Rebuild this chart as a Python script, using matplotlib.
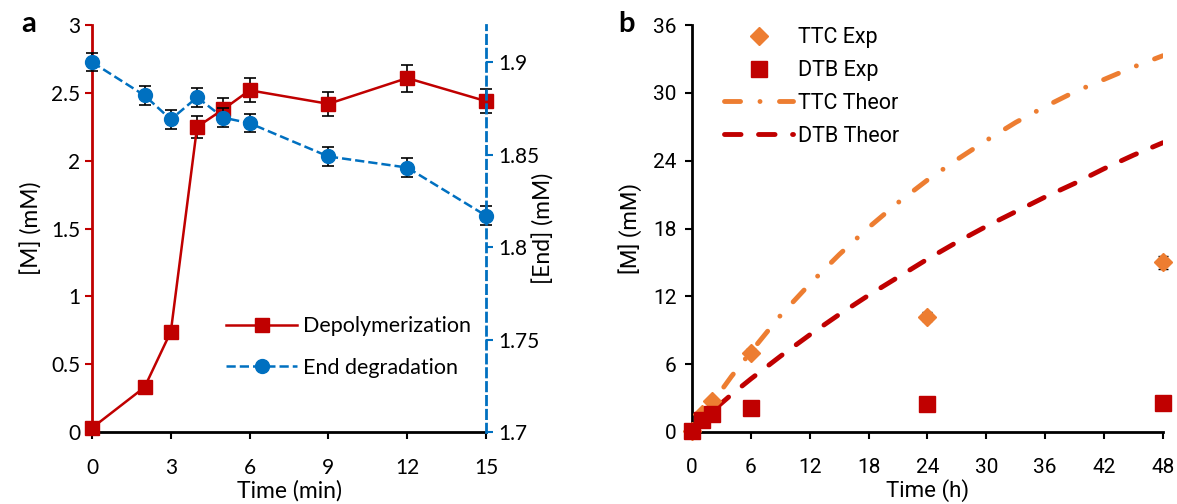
import matplotlib.pyplot as plt
import numpy as np

# panel a: depolymerization and end degradation vs time (min)
t_min = [0, 2, 3, 4, 5, 6, 9, 12, 15]
depol = [0.03, 0.33, 0.74, 2.25, 2.38, 2.52, 2.42, 2.61, 2.44]
depol_err = [0.0, 0.0, 0.0, 0.08, 0.08, 0.09, 0.09, 0.10, 0.09]
end_deg = [1.900, 1.882, 1.869, 1.881, 1.870, 1.867, 1.849, 1.843, 1.817]
end_err = [0.005, 0.005, 0.005, 0.005, 0.005, 0.005, 0.005, 0.005, 0.005]

# panel b: experimental points and theory curves vs time (h)
t_exp = [0, 1, 2, 6, 24, 48]
ttc_exp = [0.1, 1.6, 2.7, 7.0, 10.2, 15.0]
ttc_err = [0.0, 0.0, 0.0, 0.3, 0.4, 0.6]
dtb_exp = [0.05, 1.1, 1.6, 2.1, 2.45, 2.6]

t_th = [0, 2, 4, 6, 9, 12, 15, 18, 21, 24, 27, 30, 33, 36, 39, 42, 45, 48]
ttc_th = [0, 2.5, 4.9, 7.1, 10.3, 13.1, 15.7, 18.1, 20.3, 22.3, 24.1, 25.8,
          27.4, 28.8, 30.1, 31.2, 32.3, 33.3]
dtb_th = [0, 1.8, 3.3, 4.7, 6.7, 8.6, 10.4, 12.1, 13.7, 15.3, 16.8, 18.2,
          19.5, 20.8, 22.0, 23.3, 24.5, 25.6]

red = '#C00000'
blue = '#0070C0'
orange = '#ED7D31'
fam_b = ['Roboto', 'DejaVu Sans']

plt.rcParams['font.family'] = ['Lato', 'DejaVu Sans']

fig = plt.figure(figsize=(11.77, 5.04), dpi=100)

# ---- panel a
ax = fig.add_axes([0.0782, 0.1429, 0.3347, 0.8071])
ax2 = ax.twinx()

ax.errorbar(t_min, depol, yerr=depol_err, fmt='none', ecolor='black',
            elinewidth=1.2, capsize=4, capthick=1.2, zorder=2, clip_on=False)
l1, = ax.plot(t_min, depol, color=red, lw=1.8, marker='s', ms=10,
              label='Depolymerization', zorder=3, clip_on=False)
ax2.errorbar(t_min, end_deg, yerr=end_err, fmt='none', ecolor='black',
             elinewidth=1.2, capsize=4, capthick=1.2, zorder=2, clip_on=False)
l2, = ax2.plot(t_min, end_deg, color=blue, lw=1.8, ls='--', marker='o', ms=10,
               label='End degradation', zorder=3, clip_on=False)

ax.set_xlim(0, 15)
ax.set_ylim(0, 3)
ax2.set_ylim(1.7, 1.92)
ax.set_xticks(np.arange(0, 16, 3))
ax.set_yticks([0, 0.5, 1, 1.5, 2, 2.5, 3])
ax.set_yticklabels(['0', '0.5', '1', '1.5', '2', '2.5', '3'])
ax2.set_yticks([1.7, 1.75, 1.8, 1.85, 1.9])
ax2.set_yticklabels(['1.7', '1.75', '1.8', '1.85', '1.9'])

for s in ['top', 'right']:
    ax.spines[s].set_visible(False)
ax.spines['left'].set_color(red)
ax.spines['left'].set_linewidth(2)
ax.spines['bottom'].set_linewidth(2)
for s in ['top', 'left', 'bottom']:
    ax2.spines[s].set_visible(False)
ax2.spines['right'].set_color(blue)
ax2.spines['right'].set_linewidth(2)
ax2.spines['right'].set_linestyle((0, (3, 2)))

ax.tick_params(axis='x', direction='out', length=5, width=1.5, labelsize=15,
               pad=13.5)
ax.tick_params(axis='y', direction='out', length=5, width=1.5, color=red,
               labelsize=15)
ax2.tick_params(axis='y', direction='out', length=5, width=1.5, color=blue,
                labelsize=15)

ax.set_xlabel('Time (min)', fontsize=16.5, labelpad=2)
ax.set_ylabel('[M] (mM)', fontsize=16.5, labelpad=6)
ax2.set_ylabel('[End] (mM)', fontsize=16.5, labelpad=-5)

ax2.legend([l1, l2], ['Depolymerization', 'End degradation'], loc='upper left',
           bbox_to_anchor=(0.34, 0.285), frameon=False, fontsize=15.5,
           handlelength=3.3, handletextpad=0.3, labelspacing=1.0,
           borderpad=0, borderaxespad=0)

fig.text(0.018, 0.952, 'a', fontsize=21, fontweight='bold', va='center')

# ---- panel b
bx = fig.add_axes([0.588, 0.1429, 0.400, 0.8071])

bx.errorbar(t_exp, ttc_exp, yerr=ttc_err, fmt='none', ecolor='black',
            elinewidth=1.0, capsize=3.5, capthick=1.0, zorder=2.5,
            clip_on=False)
p1, = bx.plot(t_exp, ttc_exp, color=orange, ls='none', marker='D', ms=9,
              zorder=3, clip_on=False)
p2, = bx.plot(t_exp, dtb_exp, color=red, ls='none', marker='s', ms=12,
              zorder=5, clip_on=False)
p3, = bx.plot(t_th, ttc_th, color=orange, lw=3.5, ls=(0, (3.3, 4, 0.01, 4)),
              dash_capstyle='round', zorder=2)
p4, = bx.plot(t_th, dtb_th, color=red, lw=3.5, ls=(0, (3.4, 3.6)),
              dash_capstyle='round', zorder=2)

bx.set_xlim(0, 48)
bx.set_ylim(0, 36)
bx.set_xticks(np.arange(0, 49, 6))
bx.set_yticks(np.arange(0, 37, 6))
for s in ['top', 'right']:
    bx.spines[s].set_visible(False)
bx.spines['left'].set_linewidth(2)
bx.spines['bottom'].set_linewidth(2)
bx.tick_params(axis='x', direction='out', length=5, width=1.5, labelsize=15,
               pad=13.5)
bx.tick_params(axis='y', direction='out', length=5, width=1.5, labelsize=15,
               pad=6)
for lab in bx.get_xticklabels() + bx.get_yticklabels():
    lab.set_family(fam_b)

bx.set_xlabel('Time (h)', fontsize=16, labelpad=2, family=fam_b)
bx.set_ylabel('[M] (mM)', fontsize=16, labelpad=8, family=fam_b)

bx.legend([p1, p2, p3, p4], ['TTC Exp', 'DTB Exp', 'TTC Theor', 'DTB Theor'],
          loc='upper left', bbox_to_anchor=(0.068, 0.995), frameon=False,
          prop={'family': fam_b, 'size': 15.5}, handlelength=3.2,
          handletextpad=0.25, labelspacing=0.55, borderpad=0, borderaxespad=0)

fig.text(0.525, 0.952, 'b', fontsize=21, fontweight='bold', va='center')

fig.savefig('out.png', dpi=100)
